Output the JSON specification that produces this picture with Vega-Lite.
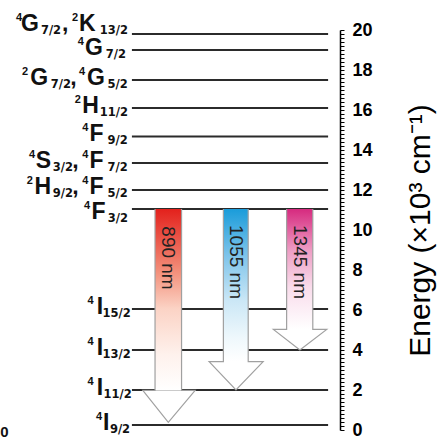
{
  "$schema": "https://vega.github.io/schema/vega-lite/v6.json",
  "width": 340,
  "height": 400,
  "autosize": "none",
  "padding": {"left": 0, "top": 30, "right": 99, "bottom": 10},
  "background": "white",
  "config": {"view": {"stroke": null}},
  "datasets": {
    "levels": [
      {"name": "4G7/2,2K13/2", "e": 19.8, "x0": 38.8, "x1": 96.5},
      {"name": "4G7/2", "e": 19.0, "x0": 38.8, "x1": 96.5},
      {"name": "2G7/2,4G5/2", "e": 17.5, "x0": 38.8, "x1": 96.5},
      {"name": "2H11/2", "e": 16.1, "x0": 38.8, "x1": 96.5},
      {"name": "4F9/2", "e": 14.68, "x0": 38.8, "x1": 96.5},
      {"name": "4S3/2,4F7/2", "e": 13.35, "x0": 38.8, "x1": 96.5},
      {"name": "2H9/2,4F5/2", "e": 12.0, "x0": 38.8, "x1": 96.5},
      {"name": "4F3/2", "e": 11.05, "x0": 38.8, "x1": 96.5},
      {"name": "4I15/2", "e": 6.05, "x0": 38.8, "x1": 96.5},
      {"name": "4I13/2", "e": 4.0, "x0": 38.8, "x1": 96.5},
      {"name": "4I11/2", "e": 2.0, "x0": 38.8, "x1": 96.5},
      {"name": "4I9/2", "e": 0.25, "x0": 38.8, "x1": 96.5}
    ],
    "shafts": [
      {"arrow": "890 nm", "e": 11.05, "b": 1.98, "xl": 45.6, "xr": 53.4},
      {"arrow": "1055 nm", "e": 11.05, "b": 3.42, "xl": 65.7, "xr": 73.0},
      {"arrow": "1345 nm", "e": 11.05, "b": 5.03, "xl": 84.3, "xr": 92.0}
    ],
    "heads": [
      {"arrow": "890 nm", "x": 42.0, "e": 1.98, "b": 1.98},
      {"arrow": "890 nm", "x": 49.5, "e": 0.38, "b": 1.98},
      {"arrow": "890 nm", "x": 57.4, "e": 1.98, "b": 1.98},
      {"arrow": "1055 nm", "x": 61.5, "e": 3.42, "b": 3.42},
      {"arrow": "1055 nm", "x": 69.4, "e": 2.0, "b": 3.42},
      {"arrow": "1055 nm", "x": 77.4, "e": 3.42, "b": 3.42},
      {"arrow": "1345 nm", "x": 80.4, "e": 5.03, "b": 5.03},
      {"arrow": "1345 nm", "x": 88.2, "e": 4.0, "b": 5.03},
      {"arrow": "1345 nm", "x": 96.1, "e": 5.03, "b": 5.03}
    ],
    "outline": [
      {"arrow": "890 nm", "pt": 0, "x": 45.6, "e": 11.05},
      {"arrow": "890 nm", "pt": 1, "x": 45.6, "e": 1.98},
      {"arrow": "890 nm", "pt": 2, "x": 42.0, "e": 1.98},
      {"arrow": "890 nm", "pt": 3, "x": 49.5, "e": 0.38},
      {"arrow": "890 nm", "pt": 4, "x": 57.4, "e": 1.98},
      {"arrow": "890 nm", "pt": 5, "x": 53.4, "e": 1.98},
      {"arrow": "890 nm", "pt": 6, "x": 53.4, "e": 11.05},
      {"arrow": "1055 nm", "pt": 0, "x": 65.7, "e": 11.05},
      {"arrow": "1055 nm", "pt": 1, "x": 65.7, "e": 3.42},
      {"arrow": "1055 nm", "pt": 2, "x": 61.5, "e": 3.42},
      {"arrow": "1055 nm", "pt": 3, "x": 69.4, "e": 2.0},
      {"arrow": "1055 nm", "pt": 4, "x": 77.4, "e": 3.42},
      {"arrow": "1055 nm", "pt": 5, "x": 73.0, "e": 3.42},
      {"arrow": "1055 nm", "pt": 6, "x": 73.0, "e": 11.05},
      {"arrow": "1345 nm", "pt": 0, "x": 84.3, "e": 11.05},
      {"arrow": "1345 nm", "pt": 1, "x": 84.3, "e": 5.03},
      {"arrow": "1345 nm", "pt": 2, "x": 80.4, "e": 5.03},
      {"arrow": "1345 nm", "pt": 3, "x": 88.2, "e": 4.0},
      {"arrow": "1345 nm", "pt": 4, "x": 96.1, "e": 5.03},
      {"arrow": "1345 nm", "pt": 5, "x": 92.0, "e": 5.03},
      {"arrow": "1345 nm", "pt": 6, "x": 92.0, "e": 11.05}
    ],
    "arrowText": [
      {"t": "890 nm", "x": 49.5, "e": 8.6},
      {"t": "1055 nm", "x": 69.35, "e": 8.4},
      {"t": "1345 nm", "x": 88.15, "e": 8.4}
    ],
    "pieces": [
      {"role": "sup", "t": "4", "x": 5.6, "e": 20.2},
      {"role": "main", "t": "G", "x": 8.8, "e": 20.2},
      {"role": "sub", "t": "7/2", "x": 15.0, "e": 20.2},
      {"role": "main", "t": ",", "x": 19.2, "e": 20.2},
      {"role": "sup", "t": "2", "x": 22.1, "e": 20.2},
      {"role": "main", "t": "K", "x": 25.7, "e": 20.2},
      {"role": "sub", "t": "13/2", "x": 33.5, "e": 20.2},
      {"role": "sup", "t": "4", "x": 23.8, "e": 19.0},
      {"role": "main", "t": "G", "x": 27.6, "e": 19.0},
      {"role": "sub", "t": "7/2", "x": 34.1, "e": 19.0},
      {"role": "sup", "t": "2", "x": 7.4, "e": 17.5},
      {"role": "main", "t": "G", "x": 11.5, "e": 17.5},
      {"role": "sub", "t": "7/2", "x": 17.9, "e": 17.5},
      {"role": "main", "t": ",", "x": 21.6, "e": 17.5},
      {"role": "sup", "t": "4", "x": 24.1, "e": 17.5},
      {"role": "main", "t": "G", "x": 28.2, "e": 17.5},
      {"role": "sub", "t": "5/2", "x": 34.6, "e": 17.5},
      {"role": "sup", "t": "2", "x": 22.9, "e": 16.1},
      {"role": "main", "t": "H", "x": 26.6, "e": 16.1},
      {"role": "sub", "t": "11/2", "x": 33.5, "e": 16.1},
      {"role": "sup", "t": "4", "x": 25.1, "e": 14.68},
      {"role": "main", "t": "F", "x": 28.4, "e": 14.68},
      {"role": "sub", "t": "9/2", "x": 34.6, "e": 14.68},
      {"role": "sup", "t": "4", "x": 9.4, "e": 13.35},
      {"role": "main", "t": "S", "x": 12.8, "e": 13.35},
      {"role": "sub", "t": "3/2", "x": 18.5, "e": 13.35},
      {"role": "main", "t": ",", "x": 22.2, "e": 13.35},
      {"role": "sup", "t": "4", "x": 25.1, "e": 13.35},
      {"role": "main", "t": "F", "x": 28.4, "e": 13.35},
      {"role": "sub", "t": "7/2", "x": 34.6, "e": 13.35},
      {"role": "sup", "t": "2", "x": 8.8, "e": 12.05},
      {"role": "main", "t": "H", "x": 12.6, "e": 12.05},
      {"role": "sub", "t": "9/2", "x": 18.5, "e": 12.05},
      {"role": "main", "t": ",", "x": 22.2, "e": 12.05},
      {"role": "sup", "t": "4", "x": 25.1, "e": 12.05},
      {"role": "main", "t": "F", "x": 28.4, "e": 12.05},
      {"role": "sub", "t": "5/2", "x": 34.6, "e": 12.05},
      {"role": "sup", "t": "4", "x": 25.6, "e": 10.8},
      {"role": "main", "t": "F", "x": 29.0, "e": 10.8},
      {"role": "sub", "t": "3/2", "x": 34.7, "e": 10.8},
      {"role": "sup", "t": "4", "x": 26.6, "e": 6.05},
      {"role": "main", "t": "I", "x": 29.4, "e": 6.05},
      {"role": "sub", "t": "15/2", "x": 34.3, "e": 6.05},
      {"role": "sup", "t": "4", "x": 26.6, "e": 4.0},
      {"role": "main", "t": "I", "x": 29.4, "e": 4.0},
      {"role": "sub", "t": "13/2", "x": 34.3, "e": 4.0},
      {"role": "sup", "t": "4", "x": 26.6, "e": 2.0},
      {"role": "main", "t": "I", "x": 29.4, "e": 2.0},
      {"role": "sub", "t": "11/2", "x": 34.6, "e": 2.0},
      {"role": "sup", "t": "4", "x": 29.1, "e": 0.25},
      {"role": "main", "t": "I", "x": 31.2, "e": 0.25},
      {"role": "sub", "t": "9/2", "x": 35.3, "e": 0.25}
    ],
    "stray": [{"t": "0", "x": 1.3, "e": -0.1}]
  },
  "encoding": {
    "x": {"field": "x", "type": "quantitative", "scale": {"domain": [0, 100], "nice": false, "zero": false}, "axis": null},
    "y": {
      "field": "e", "type": "quantitative",
      "scale": {"domain": [0, 20], "nice": false, "zero": false},
      "axis": {
        "orient": "right",
        "values": [0,0.2,0.4,0.6,0.8,1,1.2,1.4,1.6,1.8,2,2.2,2.4,2.6,2.8,3,3.2,3.4,3.6,3.8,4,4.2,4.4,4.6,4.8,5,5.2,5.4,5.6,5.8,6,6.2,6.4,6.6,6.8,7,7.2,7.4,7.6,7.8,8,8.2,8.4,8.6,8.8,9,9.2,9.4,9.6,9.8,10,10.2,10.4,10.6,10.8,11,11.2,11.4,11.6,11.8,12,12.2,12.4,12.6,12.8,13,13.2,13.4,13.6,13.8,14,14.2,14.4,14.6,14.8,15,15.2,15.4,15.6,15.8,16,16.2,16.4,16.6,16.8,17,17.2,17.4,17.6,17.8,18,18.2,18.4,18.6,18.8,19,19.2,19.4,19.6,19.8,20],
        "labelExpr": "datum.value % 2 === 0 ? format(datum.value, 'd') : ''",
        "labelOverlap": false,
        "labelFlush": false,
        "labelBound": false,
        "labelFont": "Liberation Sans",
        "labelFontSize": 18,
        "labelFontWeight": "bold",
        "labelColor": "#000",
        "labelPadding": 8,
        "tickColor": "#000",
        "tickSize": 4,
        "tickWidth": 1,
        "domainColor": "#000",
        "domainWidth": 1.5,
        "grid": false,
        "title": "Energy (×10³ cm⁻¹)",
        "titleFont": "Liberation Sans",
        "titleFontSize": 30,
        "titleFontWeight": "normal",
        "titleColor": "#000",
        "titleAngle": 270,
        "titleX": 80,
        "titleY": 200,
        "titleAlign": "center",
        "titleBaseline": "middle",
        "encode": {"ticks": {"update": {"x2": {"signal": "datum.value === 0 || datum.value === 20 ? 6 : (datum.value % 2 === 0 ? -6 : 4)"}}}}
      }
    }
  },
  "layer": [
    {
      "data": {"name": "levels"},
      "mark": {"type": "rule", "color": "#2b2b2b", "strokeWidth": 2},
      "encoding": {"x": {"field": "x0", "type": "quantitative"}, "x2": {"field": "x1"}}
    },
    {
      "data": {"name": "shafts"},
      "transform": [{"filter": "datum.arrow === '890 nm'"}],
      "mark": {"type": "rect", "strokeWidth": 0,
        "fill": {"gradient": "linear", "x1": 0, "y1": 0, "x2": 0, "y2": 1, "stops": [
          {"offset": 0, "color": "#e3211c"}, {"offset": 0.35, "color": "#f3917c"}, {"offset": 0.55, "color": "#fbd3c5"}, {"offset": 0.8, "color": "#fef1ec"}, {"offset": 1, "color": "#ffffff"}]}},
      "encoding": {"x": {"field": "xl", "type": "quantitative"}, "x2": {"field": "xr"}, "y2": {"field": "b"}}
    },
    {
      "data": {"name": "shafts"},
      "transform": [{"filter": "datum.arrow === '1055 nm'"}],
      "mark": {"type": "rect", "strokeWidth": 0,
        "fill": {"gradient": "linear", "x1": 0, "y1": 0, "x2": 0, "y2": 1, "stops": [
          {"offset": 0, "color": "#1a9cda"}, {"offset": 0.3, "color": "#7cc3ea"}, {"offset": 0.6, "color": "#cbe7f6"}, {"offset": 0.85, "color": "#eff8fc"}, {"offset": 1, "color": "#ffffff"}]}},
      "encoding": {"x": {"field": "xl", "type": "quantitative"}, "x2": {"field": "xr"}, "y2": {"field": "b"}}
    },
    {
      "data": {"name": "shafts"},
      "transform": [{"filter": "datum.arrow === '1345 nm'"}],
      "mark": {"type": "rect", "strokeWidth": 0,
        "fill": {"gradient": "linear", "x1": 0, "y1": 0, "x2": 0, "y2": 1, "stops": [
          {"offset": 0, "color": "#d62a7f"}, {"offset": 0.35, "color": "#ee9fc5"}, {"offset": 0.65, "color": "#f9dceb"}, {"offset": 1, "color": "#ffffff"}]}},
      "encoding": {"x": {"field": "xl", "type": "quantitative"}, "x2": {"field": "xr"}, "y2": {"field": "b"}}
    },
    {
      "data": {"name": "heads"},
      "mark": {"type": "area", "orient": "vertical", "color": "#ffffff", "opacity": 1},
      "encoding": {"y2": {"field": "b"}, "detail": {"field": "arrow"}}
    },
    {
      "data": {"name": "outline"},
      "mark": {"type": "line", "color": "#a0a0a0", "strokeWidth": 1.2},
      "encoding": {"detail": {"field": "arrow"}, "order": {"field": "pt"}}
    },
    {
      "data": {"name": "arrowText"},
      "mark": {"type": "text", "angle": 90, "align": "center", "baseline": "middle", "font": "Liberation Sans", "fontSize": 19, "color": "#222222"},
      "encoding": {"text": {"field": "t"}}
    },
    {
      "data": {"name": "pieces"},
      "transform": [{"filter": "datum.role === 'main'"}],
      "mark": {"type": "text", "align": "center", "baseline": "alphabetic", "dy": 5, "font": "Liberation Sans", "fontSize": 23, "fontWeight": "bold", "color": "#111111"},
      "encoding": {"text": {"field": "t"}}
    },
    {
      "data": {"name": "pieces"},
      "transform": [{"filter": "datum.role === 'sub'"}],
      "mark": {"type": "text", "align": "center", "baseline": "alphabetic", "dy": 8, "font": "DejaVu Sans", "fontSize": 11.5, "fontWeight": "bold", "color": "#111111"},
      "encoding": {"text": {"field": "t"}}
    },
    {
      "data": {"name": "pieces"},
      "transform": [{"filter": "datum.role === 'sup'"}],
      "mark": {"type": "text", "align": "center", "baseline": "alphabetic", "dy": -5, "font": "Liberation Sans", "fontSize": 11, "fontWeight": "bold", "color": "#111111"},
      "encoding": {"text": {"field": "t"}}
    },
    {
      "data": {"name": "stray"},
      "mark": {"type": "text", "align": "center", "baseline": "middle", "font": "Liberation Sans", "fontSize": 15, "fontWeight": "bold", "color": "#111111"},
      "encoding": {"text": {"field": "t"}}
    }
  ]
}
